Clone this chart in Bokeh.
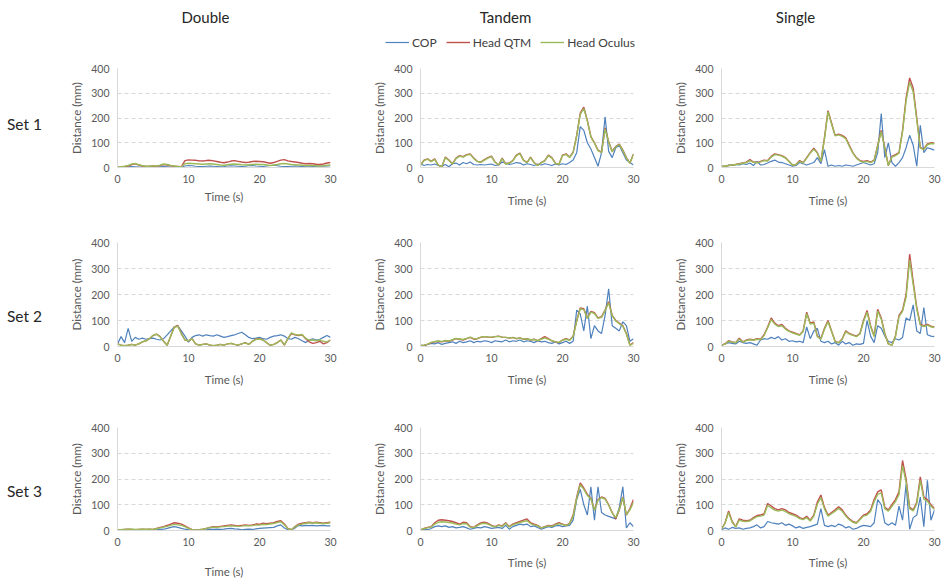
from bokeh.plotting import figure
from bokeh.models import Range1d, FixedTicker, Legend, LegendItem
from bokeh.layouts import column, row
from bokeh.embed import file_html
from bokeh.resources import INLINE
from bokeh.core.properties import value

# Sampling grid (s) shared by every trace
time_s = [i * 0.5 for i in range(61)]

conditions = ["Double", "Tandem", "Single"]
sets = ["Set 1", "Set 2", "Set 3"]
series_names = ["COP", "Head QTM", "Head Oculus"]
series_colors = ["#4F81BD", "#C0504D", "#9BBB59"]
x_ticks = [0, 10, 20, 30]
y_ticks = [0, 100, 200, 300, 400]

# ---------------- Set 1 ----------------
double_1_cop = [2, 2, 3, 3, 4, 3, 2, 2, 2, 3,
                3, 2, 3, 4, 3, 2, 2, 2, 2, 6,
                8, 7, 5, 4, 4, 5, 6, 5, 4, 3,
                4, 6, 7, 6, 5, 4, 5, 7, 8, 6,
                5, 4, 6, 8, 9, 7, 5, 4, 4, 5,
                6, 5, 4, 3, 3, 4, 5, 6, 5, 6,
                7]
double_1_qtm = [3, 3, 4, 6, 12, 15, 10, 6, 4, 5,
                6, 5, 8, 12, 10, 7, 5, 4, 3, 28,
                31, 30, 29, 27, 26, 28, 29, 27, 24, 21,
                19, 22, 26, 28, 25, 22, 20, 21, 24, 25,
                24, 23, 20, 17, 20, 25, 30, 32, 27, 24,
                22, 20, 17, 15, 16, 15, 13, 12, 14, 18,
                20]
double_1_oculus = [3, 3, 5, 8, 14, 16, 11, 7, 5, 5,
                   6, 6, 9, 14, 12, 8, 6, 4, 3, 15,
                   17, 16, 15, 14, 13, 14, 15, 14, 12, 10,
                   9, 11, 13, 14, 13, 11, 10, 11, 12, 13,
                   12, 12, 10, 8, 10, 12, 15, 16, 14, 12,
                   11, 10, 9, 8, 8, 8, 7, 6, 7, 9,
                   10]

tandem_1_cop = [15, 8, 12, 10, 14, 8, 5, 12, 3, 15,
                18, 10, 20, 15, 22, 12, 10, 12, 10, 12,
                14, 8, 10, 22, 18, 12, 15, 20, 18, 10,
                15, 12, 8, 14, 10, 15, 12, 8, 14, 10,
                15, 12, 20, 30, 60, 165, 150, 100, 75, 40,
                5, 60, 205, 65, 40, 80, 90, 60, 30, 20,
                10]
tandem_1_qtm = [10, 30, 35, 25, 35, 10, 2, 42, 30, 15,
                38, 48, 44, 52, 55, 38, 25, 22, 32, 40,
                46, 22, 10, 38, 15, 18, 28, 50, 58, 30,
                20, 42, 20, 8, 20, 28, 50, 40, 18, 12,
                50, 55, 42, 62, 130, 220, 244, 190, 125, 100,
                70, 62, 160, 105, 65, 85, 95, 70, 40, 18,
                55]
tandem_1_oculus = [10, 28, 34, 24, 33, 10, 3, 40, 28, 14,
                   36, 46, 42, 50, 53, 36, 24, 21, 30, 38,
                   44, 21, 10, 36, 14, 17, 27, 48, 56, 29,
                   19, 40, 19, 8, 19, 27, 48, 38, 17, 12,
                   48, 53, 40, 60, 128, 215, 238, 188, 123, 98,
                   68, 60, 156, 103, 63, 83, 93, 68, 38, 18,
                   53]

single_1_cop = [5, 3, 10, 8, 12, 10, 15, 12, 18, 8,
                25, 10, 12, 18, 25, 30, 22, 20, 15, 10,
                5, 8, 20, 15, 10, 15, 20, 40, 15, 72,
                5, 10, 5, 8, 5, 10, 8, 5, 10, 15,
                20, 15, 10, 15, 60, 218, 40, 100, 20, 5,
                20, 40, 80, 130, 90, 5, 170, 60, 80, 75,
                70]
single_1_qtm = [5, 5, 8, 10, 12, 15, 18, 22, 32, 22,
                20, 25, 30, 28, 45, 55, 52, 48, 40, 25,
                10, 12, 28, 20, 40, 60, 78, 60, 25, 120,
                230, 180, 130, 135, 130, 120, 90, 60, 40, 28,
                25, 28, 22, 30, 90, 150, 80, 8, 45, 52,
                60, 150, 280, 362, 320, 200, 80, 75, 95, 100,
                98]
single_1_oculus = [5, 5, 8, 10, 12, 14, 17, 20, 28, 21,
                   19, 23, 28, 26, 42, 52, 50, 46, 38, 24,
                   10, 12, 25, 19, 38, 58, 74, 58, 24, 115,
                   225, 176, 128, 132, 126, 116, 86, 58, 38, 26,
                   22, 25, 20, 28, 88, 145, 78, 8, 42, 48,
                   58, 145, 270, 345, 305, 192, 78, 72, 92, 97,
                   96]

# ---------------- Set 2 ----------------
double_2_cop = [10, 38, 15, 70, 20, 35, 28, 32, 28, 30,
                32, 28, 25, 30, 45, 60, 75, 78, 60, 40,
                17, 35, 42, 45, 40, 45, 42, 40, 45, 40,
                35, 38, 42, 45, 50, 55, 45, 35, 30, 32,
                35, 30, 28, 35, 40, 42, 45, 40, 30, 28,
                35, 30, 22, 15, 25, 30, 25, 28, 35, 42,
                35]
double_2_qtm = [10, 5, 3, 5, 8, 5, 10, 18, 22, 30,
                42, 48, 38, 20, 5, 40, 75, 81, 50, 25,
                22, 30, 10, 5, 8, 10, 5, 3, 5, 8,
                5, 10, 12, 8, 5, 10, 15, 8, 20, 28,
                30, 25, 15, 5, 8, 15, 25, 5, 30, 50,
                45, 42, 45, 30, 18, 12, 15, 20, 10, 15,
                25]
double_2_oculus = [10, 5, 3, 5, 8, 6, 10, 18, 22, 30,
                   43, 47, 37, 20, 5, 40, 74, 78, 48, 25,
                   22, 30, 10, 5, 8, 10, 6, 3, 5, 8,
                   5, 10, 12, 8, 6, 10, 14, 8, 20, 27,
                   29, 25, 15, 5, 8, 15, 25, 6, 30, 52,
                   46, 44, 46, 32, 24, 25, 22, 25, 20, 18,
                   25]

tandem_2_cop = [5, 3, 8, 12, 10, 15, 8, 12, 15, 18,
                12, 20, 15, 18, 22, 15, 20, 18, 22, 20,
                15, 22, 20, 18, 25, 18, 22, 20, 25, 18,
                22, 20, 15, 22, 18, 20, 15, 12, 18, 10,
                15, 20, 12, 20, 140, 125, 60, 155, 30, 80,
                60, 50, 120, 222, 80, 70, 60, 95, 80, 20,
                30]
tandem_2_qtm = [3, 5, 8, 15, 18, 20, 18, 22, 20, 25,
                30, 28, 25, 30, 35, 28, 30, 35, 38, 36,
                35, 38, 40, 36, 35, 32, 35, 30, 33, 28,
                30, 25, 28, 22, 30, 38, 30, 22, 18, 15,
                25, 30, 25, 40, 100, 148, 145, 110, 135, 130,
                110, 115, 140, 172, 120, 100, 90, 80, 50, 5,
                15]
tandem_2_oculus = [3, 5, 9, 16, 19, 21, 19, 23, 21, 26,
                   31, 29, 27, 31, 36, 30, 31, 36, 38, 37,
                   36, 38, 39, 36, 35, 33, 34, 31, 32, 29,
                   29, 26, 27, 23, 28, 33, 28, 22, 18, 16,
                   24, 28, 24, 38, 98, 145, 142, 108, 132, 127,
                   108, 112, 138, 168, 118, 98, 88, 78, 48, 5,
                   12]

single_2_cop = [5, 10, 15, 12, 10, 20, 15, 12, 15, 10,
                5, 25, 30, 28, 35, 30, 38, 25, 30, 20,
                22, 18, 20, 15, 75, 30, 60, 70, 20, 15,
                20, 10, 15, 5, 20, 10, 15, 5, 10, 8,
                12, 100, 40, 15, 80, 70, 40, 20, 15, 30,
                25, 35, 110, 100, 160, 60, 50, 150, 45, 40,
                38]
single_2_qtm = [5, 10, 22, 18, 15, 32, 18, 25, 28, 25,
                30, 28, 45, 75, 110, 90, 80, 85, 70, 60,
                55, 50, 45, 60, 132, 90, 95, 40, 30, 70,
                100, 60, 20, 15, 30, 60, 50, 45, 40, 50,
                100, 139, 80, 40, 143, 110, 50, 10, 5, 40,
                120, 140, 200, 355, 250, 150, 85, 80, 85, 78,
                75]
single_2_oculus = [5, 9, 20, 17, 14, 28, 17, 23, 26, 24,
                   28, 26, 42, 72, 104, 86, 77, 80, 67, 58,
                   52, 48, 43, 58, 126, 86, 90, 38, 28, 66,
                   95, 58, 18, 14, 28, 57, 48, 43, 38, 48,
                   95, 132, 76, 38, 136, 105, 48, 10, 5, 38,
                   115, 135, 190, 332, 238, 145, 82, 77, 82, 76,
                   73]

# ---------------- Set 3 ----------------
double_3_cop = [1, 1, 2, 1, 1, 2, 1, 1, 2, 1,
                2, 3, 4, 5, 8, 12, 15, 12, 8, 5,
                3, 1, 0, 1, 2, 3, 5, 4, 5, 4,
                5, 7, 8, 6, 5, 3, 4, 5, 4, 6,
                8, 9, 10, 11, 12, 18, 22, 10, 3, 2,
                10, 20, 18, 20, 19, 20, 18, 19, 20, 18,
                18]
double_3_qtm = [3, 3, 4, 5, 4, 3, 4, 5, 4, 5,
                4, 8, 12, 15, 20, 25, 30, 28, 25, 18,
                10, 3, 2, 3, 5, 8, 12, 15, 14, 16,
                18, 20, 22, 20, 18, 20, 22, 20, 22, 25,
                24, 28, 26, 28, 30, 35, 38, 25, 8, 3,
                15, 25, 28, 30, 32, 30, 32, 30, 28, 30,
                32]
double_3_oculus = [3, 3, 4, 5, 5, 4, 4, 5, 5, 5,
                   4, 7, 10, 13, 16, 20, 24, 22, 20, 15,
                   8, 3, 2, 3, 5, 8, 11, 13, 12, 14,
                   15, 17, 18, 17, 16, 17, 19, 18, 19, 22,
                   21, 24, 23, 25, 27, 31, 34, 22, 7, 3,
                   14, 22, 25, 28, 30, 29, 30, 28, 27, 28,
                   30]

tandem_3_cop = [2, 5, 3, 8, 15, 18, 15, 18, 12, 15,
                10, 12, 15, 10, 5, 8, 12, 10, 15, 12,
                8, 10, 12, 8, 20, 5, 15, 20, 25, 22,
                25, 15, 18, 12, 5, 10, 15, 12, 18, 20,
                15, 18, 20, 40, 120, 160, 100, 60, 170, 40,
                170, 70, 60, 55, 50, 45, 90, 170, 10, 30,
                15]
tandem_3_qtm = [2, 8, 12, 15, 30, 40, 42, 40, 38, 35,
                30, 25, 32, 30, 15, 12, 22, 30, 32, 28,
                20, 15, 22, 18, 30, 15, 25, 30, 35, 40,
                45, 30, 25, 20, 10, 15, 20, 18, 25, 30,
                25, 20, 28, 60, 130, 185, 165, 140, 125, 80,
                120, 130, 125, 100, 70, 45, 80, 130, 60, 85,
                120]
tandem_3_oculus = [2, 7, 10, 13, 25, 32, 34, 33, 31, 29,
                   25, 22, 27, 26, 13, 11, 19, 26, 28, 25,
                   18, 14, 20, 16, 27, 14, 22, 27, 31, 35,
                   38, 27, 22, 18, 10, 14, 18, 16, 22, 27,
                   23, 19, 26, 55, 125, 178, 160, 136, 123, 78,
                   118, 128, 122, 98, 68, 50, 82, 128, 62, 80,
                   110]

single_3_cop = [3, 10, 5, 12, 8, 10, 5, 8, 10, 15,
                22, 10, 15, 35, 30, 28, 25, 30, 20, 25,
                18, 10, 15, 8, 12, 15, 20, 25, 85, 20,
                15, 20, 15, 25, 20, 10, 15, 5, 8, 15,
                20, 18, 15, 30, 120, 100, 30, 20, 30, 20,
                95, 40, 180, 5, 50, 60, 130, 15, 195, 40,
                80]
single_3_qtm = [5, 30, 76, 35, 15, 45, 40, 38, 40, 50,
                58, 60, 65, 105, 95, 85, 80, 85, 80, 70,
                65, 60, 50, 45, 55, 40, 60, 110, 138, 90,
                60, 70, 80, 92, 80, 60, 45, 35, 30, 45,
                60, 65, 80, 120, 150, 158, 90, 80, 100, 120,
                150, 272, 200, 90, 80, 110, 208, 130, 120, 100,
                85]
single_3_oculus = [5, 28, 70, 32, 14, 40, 36, 35, 37, 46,
                   54, 56, 60, 98, 88, 79, 75, 79, 74, 65,
                   60, 55, 46, 42, 50, 37, 56, 102, 128, 84,
                   56, 65, 75, 86, 75, 56, 42, 32, 28, 42,
                   56, 60, 74, 112, 140, 146, 85, 75, 94, 112,
                   140, 252, 188, 85, 76, 104, 195, 122, 114, 95,
                   82]

panel_data = [
    [(double_1_cop, double_1_qtm, double_1_oculus),
     (tandem_1_cop, tandem_1_qtm, tandem_1_oculus),
     (single_1_cop, single_1_qtm, single_1_oculus)],
    [(double_2_cop, double_2_qtm, double_2_oculus),
     (tandem_2_cop, tandem_2_qtm, tandem_2_oculus),
     (single_2_cop, single_2_qtm, single_2_oculus)],
    [(double_3_cop, double_3_qtm, double_3_oculus),
     (tandem_3_cop, tandem_3_qtm, tandem_3_oculus),
     (single_3_cop, single_3_qtm, single_3_oculus)],
]
for r in panel_data:
    for trio in r:
        for s in trio:
            assert len(s) == len(time_s), len(s)

FONT = "Lato"
TICK_GREY = "#595959"
LINE_GREY = "#d9d9d9"
TEXT_DARK = "#262626"
LINE_WIDTHS = [1.2, 1.4, 1.4]

# Layout geometry (pixels)
LABEL_W = 60
HEADER_H = 58
col_w = [300, 300, 281]
col_left = [57, 60, 61]
col_right = [30, 27, 7]
row_h = [157, 180, 185]
row_top = [10, 27, 32]
row_bottom = [48, 49, 49]
row_label_y = [88, 127, 114]
time_label_standoff = [[4, 8, 8], [8, 8, 8], [16, 7, 7]]


def make_panel(trio, ri, ci):
    p = figure(width=col_w[ci], height=row_h[ri],
               x_range=Range1d(0, 30), y_range=Range1d(0, 400),
               output_backend="svg", toolbar_location=None,
               min_border_left=col_left[ci], min_border_right=col_right[ci],
               min_border_top=row_top[ri], min_border_bottom=row_bottom[ri])
    p.outline_line_color = None
    p.background_fill_color = "white"
    p.xgrid.visible = False
    p.ygrid.ticker = FixedTicker(ticks=y_ticks[1:])
    p.ygrid.grid_line_color = LINE_GREY
    p.ygrid.grid_line_dash = "4 3"
    p.ygrid.grid_line_width = 1

    p.xaxis.ticker = FixedTicker(ticks=x_ticks)
    p.yaxis.ticker = FixedTicker(ticks=y_ticks)
    p.xaxis.axis_label = "Time (s)"
    p.yaxis.axis_label = "Distance (mm)"
    for ax in (p.xaxis[0], p.yaxis[0]):
        ax.major_tick_line_color = None
        ax.minor_tick_line_color = None
        ax.major_tick_out = 0
        ax.major_tick_in = 0
        ax.minor_tick_out = 0
        ax.axis_line_color = LINE_GREY
        ax.major_label_text_font = FONT
        ax.major_label_text_font_size = "10.5px"
        ax.major_label_text_color = TICK_GREY
        ax.axis_label_text_font = FONT
        ax.axis_label_text_font_size = "11.5px"
        ax.axis_label_text_font_style = "normal"
        ax.axis_label_text_color = TICK_GREY
    p.xaxis.major_label_standoff = 7
    p.yaxis.major_label_standoff = 8
    p.yaxis.axis_label_standoff = 5
    p.xaxis.axis_label_standoff = time_label_standoff[ri][ci]

    for ys, color, lw in zip(trio, series_colors, LINE_WIDTHS):
        p.line(time_s, ys, line_color=color, line_width=lw)
    return p


# Header: column titles and the shared legend
total_w = LABEL_W + sum(col_w)
header = figure(width=total_w, height=HEADER_H,
                x_range=Range1d(0, total_w), y_range=Range1d(HEADER_H, 0),
                x_axis_type=None, y_axis_type=None,
                output_backend="svg", toolbar_location=None, min_border=0)
header.outline_line_color = None
header.grid.visible = False
header.text(x=[205, 505, 795], y=[16, 16, 16], text=conditions,
            text_align="center", text_baseline="middle",
            text_font=value(FONT), text_font_size="15px", text_color=TEXT_DARK)

# legend swatches: line renderers kept outside the header's visible range
items = []
for name, color, lw in zip(series_names, series_colors, LINE_WIDTHS):
    r = header.line(x=[-20, -10], y=[0, 0], line_color=color, line_width=lw)
    items.append(LegendItem(label=name, renderers=[r]))
legend = Legend(items=items, orientation="horizontal", location=(385, 6),
                padding=0, margin=0, spacing=9, label_standoff=3,
                glyph_width=24, glyph_height=20, label_height=20,
                label_text_font=FONT, label_text_font_size="12px",
                label_text_color="#404040",
                border_line_color=None, background_fill_alpha=0)
header.add_layout(legend, "center")

rows = [header]
for ri, set_name in enumerate(sets):
    lab = figure(width=LABEL_W, height=row_h[ri],
                 x_range=Range1d(0, LABEL_W), y_range=Range1d(row_h[ri], 0),
                 x_axis_type=None, y_axis_type=None,
                 output_backend="svg", toolbar_location=None, min_border=0)
    lab.outline_line_color = None
    lab.grid.visible = False
    lab.text(x=[24], y=[row_label_y[ri]], text=[set_name],
             text_align="center", text_baseline="middle",
             text_font=value(FONT), text_font_size="15.5px", text_color=TEXT_DARK)
    panels = [make_panel(panel_data[ri][ci], ri, ci) for ci in range(3)]
    rows.append(row(lab, *panels))

layout = column(*rows)

with open("out.html", "w") as f:
    f.write(file_html(layout, INLINE))
